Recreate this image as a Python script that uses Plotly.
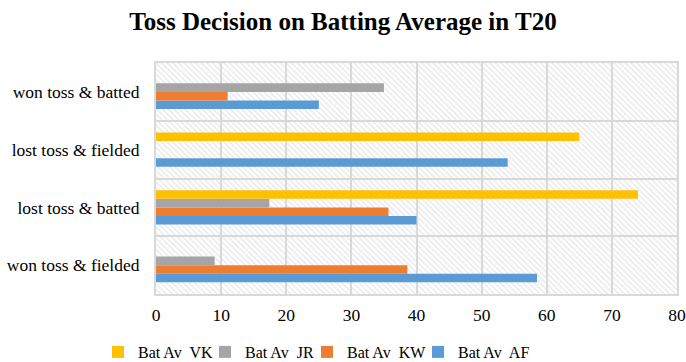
import plotly.graph_objects as go

# Categories (bottom to top) and batting averages per player
categories = ["won toss & fielded", "lost toss & batted", "lost toss & fielded", "won toss & batted"]
bat_av_vk = [0, 74, 65, 0]
bat_av_jr = [9, 17.4, 0, 35]
bat_av_kw = [38.6, 35.7, 0, 11]
bat_av_af = [58.5, 40, 54, 25]
x_ticks = [0, 10, 20, 30, 40, 50, 60, 70, 80]

# (legend label, values, colour, legend id, legend left edge in px)
series = [
    ("Bat Av\u00a0 AF", bat_av_af, "#5B9BD5", "legend4", 418),
    ("Bat Av\u00a0 KW", bat_av_kw, "#ED7D31", "legend3", 307),
    ("Bat Av\u00a0 JR", bat_av_jr, "#A5A5A5", "legend2", 205),
    ("Bat Av\u00a0 VK", bat_av_vk, "#FFC000", "legend", 98),
]

W, H = 686, 362
font_family = "Liberation Serif, Times New Roman, serif"
label_size = 17.5
legend_size = 16

fig = go.Figure()

# Hatched plot-area background on a hidden base axis pair
fig.add_trace(go.Bar(
    x=[1], y=[0.5], width=[1], orientation="h",
    xaxis="x", yaxis="y",
    marker=dict(color="rgba(0,0,0,0)", line=dict(width=0),
                pattern=dict(shape="\\", fgcolor="#d6d6d6", bgcolor="rgba(0,0,0,0)",
                             size=4, solidity=0.4, fillmode="overlay")),
    showlegend=False, hoverinfo="skip",
))

legend_layout = {}
for name, vals, color, leg, lx in series:
    fig.add_trace(go.Bar(
        y=categories, x=vals, name=name, orientation="h",
        xaxis="x2", yaxis="y2", legend=leg,
        marker=dict(color=color, line=dict(width=0)),
    ))
    legend_layout[leg] = dict(
        orientation="h", xref="container", yref="container",
        x=lx / W, xanchor="left", y=1 - 352 / H, yanchor="middle",
        bgcolor="rgba(0,0,0,0)", borderwidth=0,
        font=dict(family=font_family, size=legend_size, color="#000000"),
        itemwidth=30,
    )

fig.update_layout(
    width=W, height=H,
    margin=dict(l=156, r=9, t=63, b=68, autoexpand=False),
    paper_bgcolor="white", plot_bgcolor="white",
    font=dict(family=font_family, size=label_size, color="#000000"),
    barmode="group", bargap=0.41, bargroupgap=0,
    title=dict(text="<b>Toss Decision on Batting Average in T20</b>",
               x=0.5, xanchor="center", y=1 - 21 / H, yref="container", yanchor="middle",
               font=dict(family=font_family, size=25, color="#000000")),
    xaxis=dict(range=[0, 1], visible=False, fixedrange=True),
    yaxis=dict(range=[0, 1], visible=False, fixedrange=True),
    xaxis2=dict(overlaying="x", range=[0, 80], tickvals=x_ticks, showgrid=True,
                gridcolor="#d9d9d9", gridwidth=2, zeroline=False,
                showline=True, linecolor="#d9d9d9", linewidth=2, mirror=True,
                ticks="", ticklen=0, ticklabelstandoff=4, side="bottom", anchor="y2",
                automargin=False),
    yaxis2=dict(overlaying="y", type="category", categoryorder="array", categoryarray=categories,
                tickson="boundaries", showgrid=True, gridcolor="#d9d9d9", gridwidth=2,
                showline=True, linecolor="#d9d9d9", linewidth=2, mirror=True,
                ticks="", ticklabelstandoff=11, side="left", anchor="x2", automargin=False),
    **legend_layout,
)

fig.write_html("out.html")
